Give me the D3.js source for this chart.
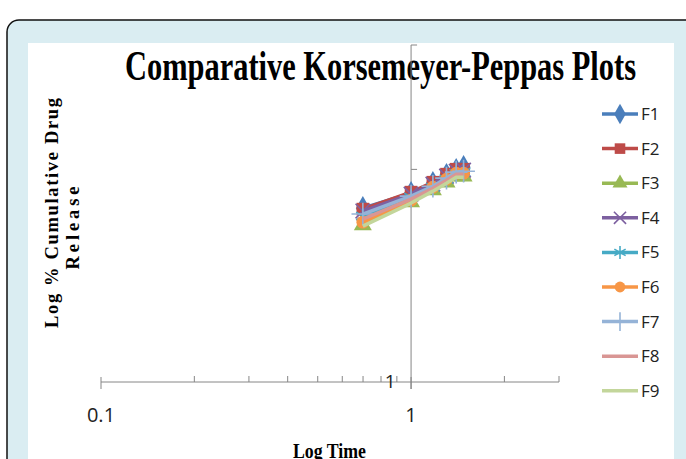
<!DOCTYPE html>
<html>
<head>
<meta charset="utf-8">
<script src="https://cdn.jsdelivr.net/npm/d3@7"></script>
<style>
  body { margin: 0; background: #fff; }
  svg { display: block; }
</style>
</head>
<body>
<svg id="chart" width="686" height="459"></svg>
<script>
// log time (min 5..30) and log % cumulative release per formulation
const logTime = [0.699, 1.0, 1.176, 1.301, 1.398, 1.477];
const seriesNames = ["F1", "F2", "F3", "F4", "F5", "F6", "F7", "F8", "F9"];
const F1 = [1.762, 1.851, 1.912, 1.963, 1.995, 2.014];
const F2 = [1.757, 1.857, 1.918, 1.969, 2.001, 2.001];
const F3 = [1.668, 1.798, 1.869, 1.918, 1.956, 1.956];
const F4 = [1.746, 1.845, 1.906, 1.956, 1.988, 1.995];
const F5 = [1.717, 1.827, 1.887, 1.937, 1.975, 1.982];
const F6 = [1.684, 1.809, 1.887, 1.937, 1.975, 1.975];
const F7 = [1.729, 1.833, 1.893, 1.944, 1.982, 1.988];
const F8 = [1.701, 1.815, 1.881, 1.931, 1.969, 1.969];
const F9 = [1.662, 1.792, 1.863, 1.912, 1.950, 1.950];
const xTickLabels = ["0.1", "1"];
const yTickLabels = ["1"];

const values = [F1, F2, F3, F4, F5, F6, F7, F8, F9];
const colors = ["#4a7ebb", "#be4b48", "#98b954", "#7d60a0", "#46aac5", "#f79646", "#95b3d7", "#d99694", "#c3d69b"];
const markers = ["diamond", "square", "triangle", "times", "asterisk", "circle", "plus", null, null];

const svg = d3.select("#chart");

// page frame
svg.append("rect")
    .attr("x", 7).attr("y", 20)
    .attr("width", 700).attr("height", 480)
    .attr("rx", 12)
    .attr("fill", "#daedf2")
    .attr("stroke", "#111")
    .attr("stroke-width", 1.5);

svg.append("rect")
    .attr("x", 28).attr("y", 43)
    .attr("width", 646).attr("height", 430)
    .attr("fill", "#fff");

// titles (under the axes, as in the original)
svg.append("text")
    .attr("x", 125).attr("y", 80)
    .attr("textLength", 511)
    .attr("lengthAdjust", "spacingAndGlyphs")
    .attr("font-family", "'Liberation Serif', 'DejaVu Serif', serif")
    .attr("font-weight", "bold")
    .attr("font-size", 43)
    .text("Comparative Korsemeyer-Peppas Plots");

svg.append("text")
    .attr("transform", "translate(58,213) rotate(-90)")
    .attr("text-anchor", "middle")
    .attr("textLength", 230)
    .attr("lengthAdjust", "spacing")
    .attr("font-family", "'Liberation Serif', 'DejaVu Serif', serif")
    .attr("font-weight", "bold")
    .attr("font-size", 18.5)
    .text("Log % Cumulative Drug");

svg.append("text")
    .attr("transform", "translate(79,228) rotate(-90)")
    .attr("text-anchor", "middle")
    .attr("textLength", 83)
    .attr("lengthAdjust", "spacing")
    .attr("font-family", "'Liberation Serif', 'DejaVu Serif', serif")
    .attr("font-weight", "bold")
    .attr("font-size", 18.5)
    .text("Release");

svg.append("text")
    .attr("x", 293).attr("y", 458)
    .attr("textLength", 73)
    .attr("lengthAdjust", "spacingAndGlyphs")
    .attr("font-family", "'Liberation Serif', 'DejaVu Serif', serif")
    .attr("font-weight", "bold")
    .attr("font-size", 20)
    .text("Log Time");

const x = d3.scaleLog().domain([0.1, 3]).range([101, 559]);
const y = d3.scaleLog().domain([1, 3]).range([382, 45]);

const axisColor = "#868686";

// x axis
const xAxis = svg.append("g");
xAxis.append("line")
    .attr("x1", x(0.1)).attr("x2", x(3))
    .attr("y1", y(1)).attr("y2", y(1))
    .attr("stroke", axisColor);

const xMinor = [0.2, 0.3, 0.4, 0.5, 0.6, 0.7, 0.8, 0.9, 2, 3];
xAxis.selectAll(".minor")
    .data(xMinor)
    .enter()
    .append("line")
    .attr("x1", d => x(d)).attr("x2", d => x(d))
    .attr("y1", y(1) - 6).attr("y2", y(1))
    .attr("stroke", axisColor);

xAxis.selectAll(".major")
    .data([0.1, 1])
    .enter()
    .append("line")
    .attr("x1", d => x(d)).attr("x2", d => x(d))
    .attr("y1", y(1) - 5).attr("y2", y(1) + 7)
    .attr("stroke", axisColor);

xAxis.selectAll("text")
    .data(xTickLabels)
    .enter()
    .append("text")
    .attr("x", d => x(+d))
    .attr("y", 422)
    .attr("text-anchor", "middle")
    .attr("font-family", "'Liberation Sans Narrow', 'Open Sans', sans-serif")
    .attr("font-size", 20)
    .attr("fill", "#222")
    .text(d => d);

// y axis
const yAxis = svg.append("g");
yAxis.append("line")
    .attr("x1", x(1)).attr("x2", x(1))
    .attr("y1", y(3)).attr("y2", y(1) + 7)
    .attr("stroke", axisColor);

yAxis.selectAll(".tick")
    .data([2, 3])
    .enter()
    .append("line")
    .attr("x1", x(1)).attr("x2", x(1) + 6)
    .attr("y1", d => y(d)).attr("y2", d => y(d))
    .attr("stroke", axisColor);

yAxis.selectAll("text")
    .data(yTickLabels)
    .enter()
    .append("text")
    .attr("x", x(1) - 21)
    .attr("y", d => y(+d) + 6)
    .attr("text-anchor", "middle")
    .attr("font-family", "'Liberation Sans Narrow', 'Open Sans', sans-serif")
    .attr("font-size", 19)
    .attr("fill", "#222")
    .text(d => d);

// series
const line = d3.line()
    .x((d, i) => x(logTime[i]))
    .y(d => y(d));

const symbolType = {
    diamond: d3.symbolDiamond,
    square: d3.symbolSquare,
    triangle: d3.symbolTriangle,
    circle: d3.symbolCircle,
    times: d3.symbolTimes,
    asterisk: d3.symbolAsterisk,
    plus: d3.symbolPlus
};
const symbolSize = { diamond: 170, square: 160, triangle: 140, circle: 130, times: 140, asterisk: 170, plus: 170 };
const stroked = new Set(["times", "asterisk", "plus"]);

function drawMarker(g, kind, color, cx, cy, scale) {
    if (!kind) return;
    const p = g.append("path")
        .attr("d", d3.symbol().type(symbolType[kind]).size(symbolSize[kind] * scale)())
        .attr("transform", `translate(${cx},${cy})`);
    if (stroked.has(kind)) {
        p.attr("fill", "none").attr("stroke", color).attr("stroke-width", 1.6);
    } else {
        p.attr("fill", color);
    }
}

values.forEach((vals, s) => {
    const g = svg.append("g");
    g.append("path")
        .datum(vals)
        .attr("d", line)
        .attr("fill", "none")
        .attr("stroke", colors[s])
        .attr("stroke-width", 3.5)
        .attr("stroke-linejoin", "round");
    vals.forEach((v, i) => drawMarker(g, markers[s], colors[s], x(logTime[i]), y(v), 1));
});

// legend
const legend = svg.append("g");
seriesNames.forEach((name, i) => {
    const ly = 114 + i * 34.6;
    legend.append("line")
        .attr("x1", 602).attr("x2", 638)
        .attr("y1", ly).attr("y2", ly)
        .attr("stroke", colors[i])
        .attr("stroke-width", 3.5);
    drawMarker(legend, markers[i], colors[i], 620, ly, 0.7);
    legend.append("text")
        .attr("x", 641)
        .attr("y", ly + 6)
        .attr("font-family", "'Liberation Sans Narrow', 'Open Sans', sans-serif")
        .attr("font-size", 17)
        .attr("fill", "#222")
        .text(name);
});
</script>
</body>
</html>
